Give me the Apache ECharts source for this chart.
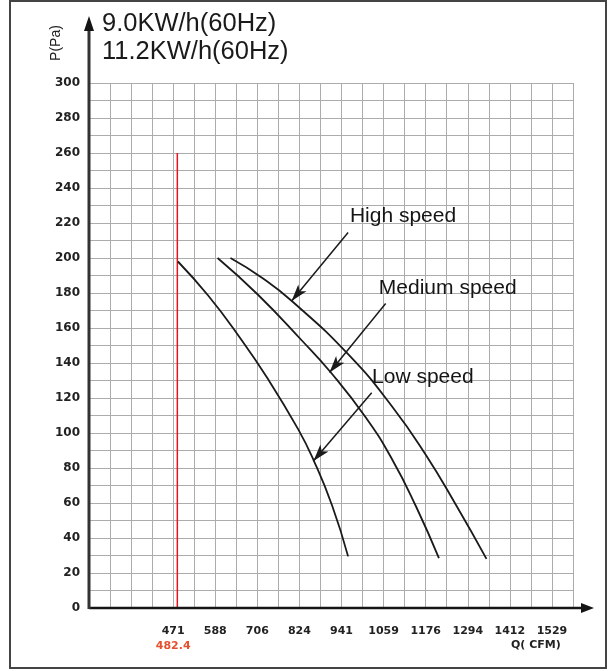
<!DOCTYPE html>
<html>
<head>
<meta charset="utf-8">
<script src="https://cdn.jsdelivr.net/npm/echarts@6/dist/echarts.min.js"></script>
<style>
html,body{margin:0;padding:0;background:#fff}
#chart{width:610px;height:671px}
</style>
</head>
<body>
<div id="chart"></div>
<script>
// one grid cell on the Q axis = 58.85 CFM (100 m3/h)
const step = 58.85;
const xTickLabels = ['471', '588', '706', '824', '941', '1059', '1176', '1294', '1412', '1529'];
const redLineQ = 482.4;
const redLineTop = 260;

const lowQ = [484, 568, 651, 736, 821, 863, 915, 960];
const lowP = [198, 178.7, 156.3, 130.8, 101.9, 84.7, 58.7, 29.5];
const medQ = [595, 708, 830, 910, 1009, 1084, 1150, 1214];
const medP = [200, 179, 153, 135, 109, 84.6, 58, 28.5];
const highQ = [631, 717, 805, 962, 1084, 1178, 1263, 1347];
const highP = [200, 189, 175, 144.6, 114.9, 87.3, 58.4, 28.1];

const speedNames = ['Low speed', 'Medium speed', 'High speed'];
// label anchor [Q, P] and arrow [from, to]
const labelAt = [[1027, 132], [1046, 183], [965, 224]];
const arrowFrom = [[1026, 123], [1065, 174], [960, 214.6]];
const arrowTo = [[863, 84], [908, 134.6], [802, 175.4]];

const xMin = 4 * step, xMax = 27 * step;

function pairs(q, p) {
    return q.map(function (v, i) { return [v, p[i]]; });
}

function curve(i, q, p) {
    return {
        name: speedNames[i],
        type: 'line',
        data: pairs(q, p),
        smooth: 0.5,
        symbol: 'none',
        lineStyle: {color: '#1a1a1a', width: 1.8},
        markLine: {
            silent: true,
            symbol: ['none', 'arrow'],
            symbolSize: [8, 17],
            lineStyle: {color: '#1a1a1a', width: 1.5, type: 'solid'},
            label: {show: false},
            data: [[{coord: arrowFrom[i]}, {coord: arrowTo[i]}]]
        },
        markPoint: {
            silent: true,
            symbol: 'circle',
            symbolSize: 0,
            label: {
                show: true,
                position: 'right',
                distance: 0,
                formatter: '{b}',
                color: '#151515',
                fontSize: 21,
                fontFamily: 'Liberation Sans'
            },
            data: [{name: speedNames[i], coord: labelAt[i]}]
        }
    };
}

const chart = echarts.init(document.getElementById('chart'));
chart.setOption({
    animation: false,
    title: {
        text: '9.0KW/h(60Hz)\n11.2KW/h(60Hz)',
        left: 102,
        top: 10,
        padding: 0,
        textStyle: {
            fontFamily: 'Liberation Sans',
            fontWeight: 'normal',
            fontSize: 25.5,
            lineHeight: 28,
            color: '#1a1a1a'
        }
    },
    grid: {left: 89, top: 83, width: 484, height: 525},
    xAxis: {
        type: 'value',
        min: xMin,
        max: xMax,
        interval: step,
        axisLine: {show: false},
        axisTick: {show: false},
        splitLine: {lineStyle: {color: '#acacac', width: 1}},
        axisLabel: {
            margin: 16,
            color: '#222',
            fontFamily: 'DejaVu Sans',
            fontWeight: 'bold',
            fontSize: 11,
            lineHeight: 15,
            showMinLabel: true,
            showMaxLabel: true,
            formatter: function (v) {
                const k = Math.round(v / step);
                if (k < 8 || k % 2) return '';
                const s = xTickLabels[(k - 8) / 2];
                if (!s) return '';
                return k === 8 ? s + '\n{red|' + redLineQ + '}' : s;
            },
            rich: {
                red: {color: '#e5502e', fontFamily: 'DejaVu Sans', fontWeight: 'bold', fontSize: 11, lineHeight: 15}
            }
        }
    },
    yAxis: {
        type: 'value',
        min: 0,
        max: 300,
        interval: 10,
        axisLine: {show: false},
        axisTick: {show: false},
        splitLine: {lineStyle: {color: '#acacac', width: 1}},
        axisLabel: {
            margin: 9,
            color: '#222',
            fontFamily: 'DejaVu Sans',
            fontWeight: 'bold',
            fontSize: 12,
            formatter: function (v) { return v % 20 === 0 ? String(v) : ''; }
        }
    },
    series: [
        curve(0, lowQ, lowP),
        curve(1, medQ, medP),
        curve(2, highQ, highP),
        {
            type: 'line',
            data: [[redLineQ, 0], [redLineQ, redLineTop]],
            symbol: 'none',
            lineStyle: {color: '#e8141c', width: 1.5},
            z: 1
        }
    ]
});

// axis lines with arrow heads, running past the grid as in the original
const o = chart.convertToPixel({gridIndex: 0}, [xMin, 0]);
const e = chart.convertToPixel({gridIndex: 0}, [xMax, 300]);
chart.setOption({
    graphic: [
        {type: 'rect', shape: {x: 10, y: 1, width: 596, height: 667}, style: {fill: 'none', stroke: '#444', lineWidth: 2}},
        {type: 'line', z: 10, shape: {x1: o[0], y1: o[1], x2: e[0] + 12, y2: o[1]}, style: {stroke: '#151515', lineWidth: 2.5}},
        {type: 'polygon', z: 10, shape: {points: [[e[0] + 21, o[1]], [e[0] + 8, o[1] - 5], [e[0] + 8, o[1] + 5]]}, style: {fill: '#151515'}},
        {type: 'line', z: 10, shape: {x1: o[0], y1: o[1] + 1, x2: o[0], y2: e[1] - 55}, style: {stroke: '#333', lineWidth: 3}},
        {type: 'polygon', z: 10, shape: {points: [[o[0], e[1] - 67], [o[0] - 5, e[1] - 52], [o[0] + 5, e[1] - 52]]}, style: {fill: '#151515'}},
        {type: 'text', left: 511, top: 640, style: {text: 'Q( CFM)', fill: '#222', font: 'bold 11px "DejaVu Sans"'}},
        {type: 'text', x: 56, y: 43, rotation: Math.PI / 2, style: {text: 'P(Pa)', fill: '#222', font: '14px "Liberation Sans"', textAlign: 'center', textVerticalAlign: 'middle'}}
    ]
});

window.addEventListener('resize', function () {
    chart.resize();
}, false);
</script>
</body>
</html>
